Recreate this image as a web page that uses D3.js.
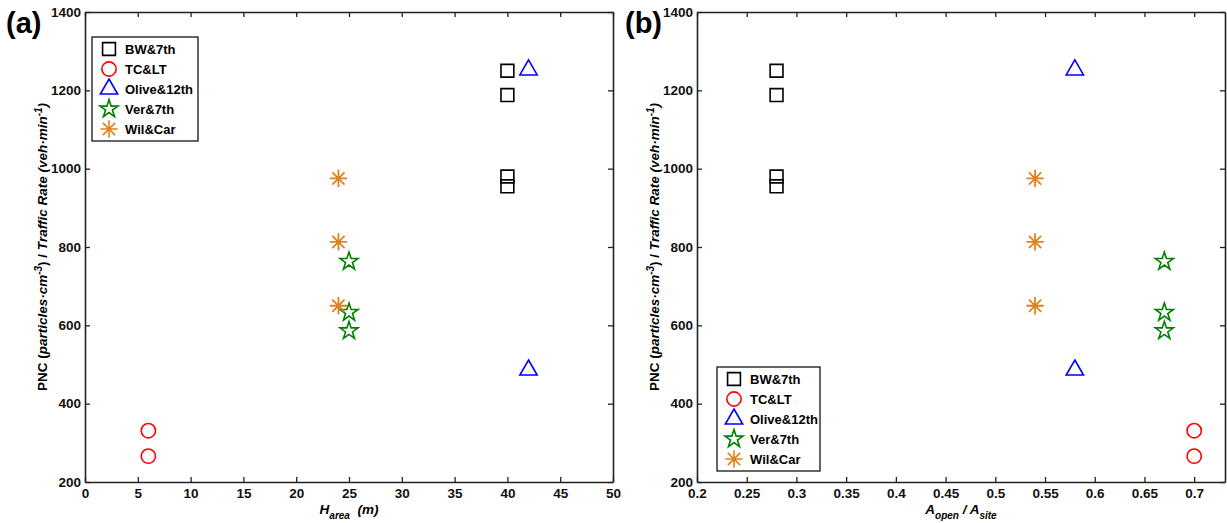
<!DOCTYPE html>
<html>
<head>
<meta charset="utf-8">
<script src="https://cdn.jsdelivr.net/npm/d3@7"></script>
<style>
  body { margin: 0; background: #fff; }
  svg { font-family: "Liberation Sans", Arial, sans-serif; }
</style>
</head>
<body>
<svg id="chart" width="1227" height="523"></svg>
<script>
// data
const sites = ["BW&7th", "TC&LT", "Olive&12th", "Ver&7th", "Wil&Car"];
const hArea = [40, 6, 42, 25, 24];
const aRatio = [0.28, 0.70, 0.58, 0.67, 0.54];
const pncRate = [
  [1250, 1188, 980, 955],
  [331, 266],
  [1252, 486],
  [763, 633, 586],
  [975, 813, 650]
];
const yTicks = [200, 400, 600, 800, 1000, 1200, 1400];
const xTicksA = [0, 5, 10, 15, 20, 25, 30, 35, 40, 45, 50];
const xTicksB = [0.2, 0.25, 0.3, 0.35, 0.4, 0.45, 0.5, 0.55, 0.6, 0.65, 0.7];

const colors = ["#000000", "#ff0000", "#0000ff", "#008000", "#e0821c"];

// 8-armed asterisk like matlab '*'
const asterisk = {
  draw(ctx, size) {
    const r = Math.sqrt(size) / 2;
    const d = r * Math.SQRT1_2;
    ctx.moveTo(0, -r); ctx.lineTo(0, r);
    ctx.moveTo(-r, 0); ctx.lineTo(r, 0);
    ctx.moveTo(-d, -d); ctx.lineTo(d, d);
    ctx.moveTo(-d, d); ctx.lineTo(d, -d);
  }
};
const shapes = [
  d3.symbol().type(d3.symbolSquare).size(165),
  d3.symbol().type(d3.symbolCircle).size(160),
  d3.symbol().type(d3.symbolTriangle).size(130),
  d3.symbol().type(d3.symbolStar).size(100),
  d3.symbol().type(asterisk).size(300)
];

const svg = d3.select("#chart");
const top_ = 12, bottom = 482;

const y = d3.scaleLinear().domain([200, 1400]).range([bottom, top_]);

const panels = [
  { tag: "(a)", left: 85, right: 613, domain: [0, 50], ticks: xTicksA, xs: hArea,
    fmt: d => d, legend: { x: 92, y: 37 }, tagX: 6 },
  { tag: "(b)", left: 697, right: 1225, domain: [0.2, 0.731], ticks: xTicksB, xs: aRatio,
    fmt: d => String(+d.toFixed(2)), legend: { x: 717, y: 367 }, tagX: 625 }
];

panels.forEach(function (p, pi) {
  const x = d3.scaleLinear().domain(p.domain).range([p.left, p.right]);
  const g = svg.append("g");

  // axes, ticks pointing inward like matlab
  g.append("g")
    .attr("transform", "translate(0," + bottom + ")")
    .call(d3.axisBottom(x).tickValues(p.ticks).tickFormat(p.fmt).tickSizeInner(-5).tickSizeOuter(0).tickPadding(6));
  g.append("g")
    .attr("transform", "translate(0," + top_ + ")")
    .call(d3.axisTop(x).tickValues(p.ticks).tickFormat("").tickSizeInner(-5).tickSizeOuter(0));
  g.append("g")
    .attr("transform", "translate(" + p.left + ",0)")
    .call(d3.axisLeft(y).tickValues(yTicks).tickFormat(d3.format("d")).tickSizeInner(-5).tickSizeOuter(0).tickPadding(4));
  g.append("g")
    .attr("transform", "translate(" + p.right + ",0)")
    .call(d3.axisRight(y).tickValues(yTicks).tickFormat("").tickSizeInner(-5).tickSizeOuter(0));

  g.selectAll(".domain").attr("stroke", "#222").attr("stroke-width", 1.6);
  g.selectAll(".tick line").attr("stroke", "#222").attr("stroke-width", 1.3);
  g.selectAll(".tick text")
    .attr("fill", "#111")
    .style("font-size", "13.5px")
    .style("font-weight", "bold")
    .style("font-family", "'Liberation Sans', Arial, sans-serif");

  // points
  sites.forEach(function (s, si) {
    g.append("g").selectAll("path")
      .data(pncRate[si])
      .enter().append("path")
      .attr("d", shapes[si])
      .attr("transform", d => "translate(" + x(p.xs[si]) + "," + y(d) + ")")
      .attr("fill", "none")
      .attr("stroke", colors[si])
      .attr("stroke-width", si === 4 ? 1.8 : 1.6);
  });

  // legend
  const lg = g.append("g").attr("transform", "translate(" + p.legend.x + "," + p.legend.y + ")");
  lg.append("rect")
    .attr("width", pi === 0 ? 106 : 103)
    .attr("height", 104)
    .attr("fill", "#fff")
    .attr("stroke", "#000")
    .attr("stroke-width", 1.2);
  const item = lg.selectAll(".item")
    .data(sites)
    .enter().append("g")
    .attr("transform", (d, i) => "translate(0," + (12 + i * 20) + ")");
  item.append("path")
    .attr("d", (d, i) => shapes[i]())
    .attr("transform", "translate(17,0)")
    .attr("fill", "none")
    .attr("stroke", (d, i) => colors[i])
    .attr("stroke-width", 1.6);
  item.append("text")
    .attr("x", 33)
    .attr("dy", "0.36em")
    .style("font-size", "13px")
    .style("font-weight", "bold")
    .text(d => d);

  // panel tag
  g.append("text")
    .attr("x", p.tagX)
    .attr("y", 33)
    .style("font-size", "29px")
    .style("font-weight", "bold")
    .text(p.tag);

  // y label
  const cy = (top_ + bottom) / 2;
  const yl = g.append("text")
    .attr("transform", "translate(" + (p.left - 38) + "," + cy + ") rotate(-90)")
    .attr("text-anchor", "middle")
    .style("font-size", "13.5px")
    .style("font-weight", "bold");
  yl.append("tspan").text("PNC (");
  yl.append("tspan").style("font-style", "italic").text("particles\u00b7cm");
  yl.append("tspan").attr("dy", -5).style("font-size", "10px").style("font-style", "italic").text("-3");
  yl.append("tspan").attr("dy", 5).text(") / ");
  yl.append("tspan").style("font-style", "italic").text("Traffic Rate (veh\u00b7min");
  yl.append("tspan").attr("dy", -5).style("font-size", "10px").style("font-style", "italic").text("-1");
  yl.append("tspan").attr("dy", 5).style("font-style", "italic").text(")");

  // x label
  const xl = g.append("text")
    .attr("x", (p.left + p.right) / 2)
    .attr("y", 514)
    .attr("text-anchor", "middle")
    .style("font-size", "13.5px")
    .style("font-weight", "bold")
    .style("font-style", "italic");
  if (pi === 0) {
    xl.append("tspan").text("H");
    xl.append("tspan").attr("dy", 5).style("font-size", "10px").text("area");
    xl.append("tspan").attr("dy", -5).text("\u00a0\u00a0(m)");
  } else {
    xl.append("tspan").text("A");
    xl.append("tspan").attr("dy", 5).style("font-size", "10px").text("open");
    xl.append("tspan").attr("dy", -5).text(" / A");
    xl.append("tspan").attr("dy", 5).style("font-size", "10px").text("site");
  }
});
</script>
</body>
</html>
